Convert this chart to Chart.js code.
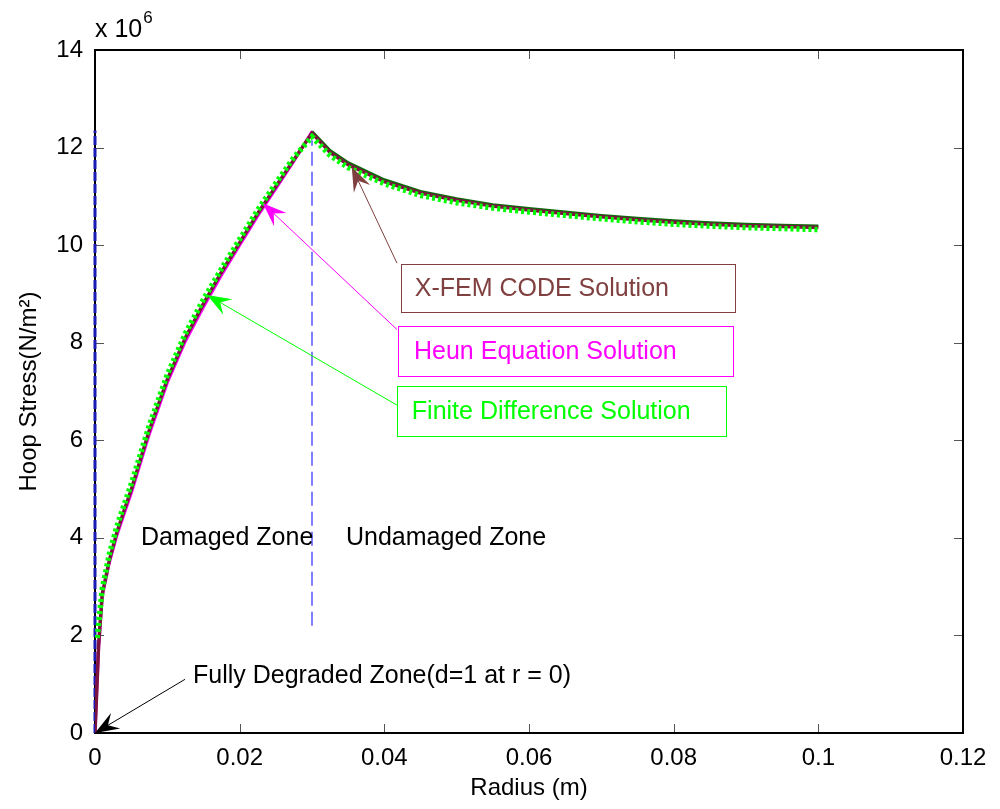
<!DOCTYPE html>
<html>
<head>
<meta charset="utf-8">
<script src="https://cdn.jsdelivr.net/npm/chart.js@4.4.1/dist/chart.umd.min.js"></script>
<style>
  html, body { margin: 0; padding: 0; background: #fff; }
  #wrap { width: 1000px; height: 809px; }
</style>
</head>
<body>
<div id="wrap"><canvas id="chart" width="1000" height="809"></canvas></div>
<script>
// radius in m, hoop stress in units of 1e6 N/m^2
const radius = [0, 0.0005, 0.001, 0.002, 0.003, 0.004, 0.005, 0.0075, 0.01, 0.0125, 0.015, 0.0175, 0.02, 0.0225, 0.025, 0.0275, 0.03,
    0.0325, 0.035, 0.04, 0.045, 0.05, 0.055, 0.06, 0.065, 0.07, 0.075, 0.08, 0.085, 0.09, 0.095, 0.1];
const xfemStress = [0, 1.8, 2.85, 3.55, 4.1, 4.55, 4.98, 6.2, 7.25, 8.1, 8.8, 9.45, 10.05, 10.65, 11.2, 11.75, 12.3,
    11.9, 11.65, 11.3, 11.07, 10.92, 10.8, 10.72, 10.65, 10.58, 10.52, 10.47, 10.43, 10.4, 10.38, 10.36];

const heunRadius = [0, 0.0005, 0.001, 0.002, 0.003, 0.004, 0.005, 0.0075, 0.01, 0.0125, 0.015, 0.0175, 0.02, 0.0225, 0.025, 0.0275, 0.03];
const heunStress = [0, 1.75, 2.8, 3.5, 4.04, 4.48, 4.91, 6.12, 7.18, 8.03, 8.73, 9.39, 10.0, 10.6, 11.16, 11.72, 12.33];

const fdRadius = [0.0003, 0.001, 0.002, 0.003, 0.004, 0.005, 0.0075, 0.01, 0.0125, 0.015, 0.0175, 0.02, 0.0225, 0.025, 0.0275, 0.03,
    0.0325, 0.035, 0.04, 0.045, 0.05, 0.055, 0.06, 0.065, 0.07, 0.075, 0.08, 0.085, 0.09, 0.095, 0.1];
const fdStress = [1.95, 2.95, 3.68, 4.22, 4.67, 5.1, 6.3, 7.35, 8.19, 8.89, 9.52, 10.12, 10.72, 11.27, 11.8, 12.22,
    11.84, 11.59, 11.26, 11.02, 10.87, 10.76, 10.68, 10.61, 10.54, 10.48, 10.43, 10.39, 10.36, 10.34, 10.32];

const outerRadius = [0.03, 0.0325, 0.035, 0.04, 0.045, 0.05, 0.055, 0.06, 0.065, 0.07, 0.075, 0.08, 0.085, 0.09, 0.095, 0.1];
const outerStress = [12.33, 11.94, 11.69, 11.34, 11.1, 10.95, 10.83, 10.75, 10.68, 10.61, 10.55, 10.5, 10.46, 10.43, 10.41, 10.39];

// zone boundary (r = 0.03) and the r = 0 trace
const boundaryRadius = [0.03, 0.03];
const boundaryStress = [2.2, 12.15];
const axisRadius = [0, 0];
const axisStress = [0, 12.35];

const xTicks = [0, 0.02, 0.04, 0.06, 0.08, 0.1, 0.12];
const yTicks = [0, 2, 4, 6, 8, 10, 12, 14];

const FONT = "'Liberation Sans', Arial, Helvetica, sans-serif";

const pts = (xs, ys) => xs.map((x, i) => ({ x, y: ys[i] }));

// text boxes, labels and arrows, placed in data units
const boxes = [
    { text: 'X-FEM CODE Solution', color: '#804040', x0: 0.0423, x1: 0.0885, y0: 9.61, y1: 8.63, tx: 0.0442 },
    { text: 'Heun Equation Solution', color: '#ff00ff', x0: 0.0419, x1: 0.0882, y0: 8.34, y1: 7.32, tx: 0.0441 },
    { text: 'Finite Difference Solution', color: '#00ff00', x0: 0.0417, x1: 0.0872, y0: 7.11, y1: 6.09, tx: 0.0438 }
];
const arrows = [
    { from: [0.04175, 9.63], to: [0.0355, 11.6], color: '#804040' },
    { from: [0.04175, 8.27], to: [0.0232, 10.86], color: '#ff00ff' },
    { from: [0.04175, 6.72], to: [0.0155, 8.98], color: '#00ff00' },
    { from: [0.01244, 1.1], to: [0, 0], color: '#000000' }
];
const labels = [
    { text: 'Damaged Zone', x: 0.00636, y: 4.0 },
    { text: 'Undamaged Zone', x: 0.0347, y: 4.0 },
    { text: 'Fully Degraded Zone(d=1 at r = 0)', x: 0.01355, y: 1.17 }
];

function arrow(ctx, x0, y0, x1, y1, color) {
    const ang = Math.atan2(y1 - y0, x1 - x0);
    const len = 24, half = 9, notch = 15;
    ctx.strokeStyle = color;
    ctx.lineWidth = 1;
    ctx.beginPath();
    ctx.moveTo(x0, y0);
    ctx.lineTo(x1 - Math.cos(ang) * notch, y1 - Math.sin(ang) * notch);
    ctx.stroke();
    ctx.save();
    ctx.translate(x1, y1);
    ctx.rotate(ang);
    ctx.beginPath();
    ctx.moveTo(0, 0);
    ctx.lineTo(-len, -half);
    ctx.lineTo(-notch, 0);
    ctx.lineTo(-len, half);
    ctx.closePath();
    ctx.fillStyle = color;
    ctx.fill();
    ctx.restore();
}

// box around the axes with inward ticks, under the curves
const frame = {
    id: 'frame',
    beforeDatasetsDraw(chart) {
        const { ctx, chartArea: a, scales: { x, y } } = chart;
        ctx.save();
        ctx.strokeStyle = '#555';
        ctx.lineWidth = 1;
        ctx.beginPath();
        for (const v of xTicks) {
            const px = Math.round(x.getPixelForValue(v)) + 0.5;
            ctx.moveTo(px, a.bottom); ctx.lineTo(px, a.bottom - 9);
            ctx.moveTo(px, a.top); ctx.lineTo(px, a.top + 9);
        }
        for (const v of yTicks) {
            const py = Math.round(y.getPixelForValue(v)) + 0.5;
            ctx.moveTo(a.left, py); ctx.lineTo(a.left + 9, py);
            ctx.moveTo(a.right, py); ctx.lineTo(a.right - 9, py);
        }
        ctx.stroke();
        ctx.strokeStyle = '#000';
        ctx.lineWidth = 2;
        ctx.strokeRect(a.left, a.top, a.right - a.left, a.bottom - a.top);
        ctx.restore();
    },
    afterDatasetsDraw(chart) {
        const { ctx, chartArea: a, scales: { x, y } } = chart;
        ctx.save();
        ctx.font = `25px ${FONT}`;
        ctx.textBaseline = 'middle';
        ctx.textAlign = 'left';
        for (const b of boxes) {
            const l = Math.round(x.getPixelForValue(b.x0)) + 0.5;
            const r = Math.round(x.getPixelForValue(b.x1)) + 0.5;
            const t = Math.round(y.getPixelForValue(b.y0)) + 0.5;
            const btm = Math.round(y.getPixelForValue(b.y1)) + 0.5;
            ctx.strokeStyle = b.color;
            ctx.lineWidth = 1;
            ctx.strokeRect(l, t, r - l, btm - t);
            ctx.fillStyle = b.color;
            ctx.fillText(b.text, x.getPixelForValue(b.tx), (t + btm) / 2 + 1);
        }
        ctx.fillStyle = '#000';
        for (const lb of labels) {
            ctx.fillText(lb.text, x.getPixelForValue(lb.x), y.getPixelForValue(lb.y));
        }
        for (const ar of arrows) {
            arrow(ctx,
                x.getPixelForValue(ar.from[0]), y.getPixelForValue(ar.from[1]),
                x.getPixelForValue(ar.to[0]), y.getPixelForValue(ar.to[1]), ar.color);
        }
        // axis multiplier
        ctx.fillStyle = '#000';
        ctx.textBaseline = 'alphabetic';
        ctx.font = `25px ${FONT}`;
        ctx.fillText('x 10', a.left, 37);
        const w = ctx.measureText('x 10').width;
        ctx.font = `17px ${FONT}`;
        ctx.fillText('6', a.left + w + 1, 23);
        ctx.restore();
    }
};

const whiteBackground = {
    id: 'white_bg',
    beforeDraw(chart) {
        const { ctx } = chart;
        ctx.save();
        ctx.fillStyle = '#fff';
        ctx.fillRect(0, 0, chart.width, chart.height);
        ctx.restore();
    }
};

Chart.defaults.font.family = FONT;
Chart.defaults.font.size = 24;
Chart.defaults.color = '#000';

new Chart(document.getElementById('chart').getContext('2d'), {
    type: 'line',
    data: {
        datasets: [
            {
                label: 'boundary',
                data: pts(boundaryRadius, boundaryStress),
                borderColor: '#7f7fff',
                borderWidth: 2,
                borderDash: [14, 6],
                order: 7
            },
            {
                label: 'r = 0',
                data: pts(axisRadius, axisStress),
                borderColor: '#1a1ab4',
                borderWidth: 3,
                borderDash: [9, 3],
                clip: false,
                order: 6
            },
            {
                label: 'Undamaged zone',
                data: pts(outerRadius, outerStress),
                borderColor: '#0b6b0b',
                borderWidth: 3,
                order: 5
            },
            {
                label: 'Heun Equation Solution',
                data: pts(heunRadius, heunStress),
                borderColor: '#ff00ff',
                borderWidth: 3,
                order: 4
            },
            {
                label: 'X-FEM CODE Solution',
                data: pts(radius, xfemStress),
                borderColor: '#7d1440',
                borderWidth: 3.5,
                order: 3
            },
            {
                label: 'Finite Difference Solution',
                data: pts(fdRadius, fdStress),
                borderColor: '#00ff00',
                borderWidth: 5.5,
                borderDash: [3, 3],
                order: 2
            }
        ]
    },
    options: {
        responsive: false,
        animation: false,
        devicePixelRatio: 1,
        elements: {
            point: { radius: 0 },
            line: { tension: 0, borderCapStyle: 'butt', borderJoinStyle: 'miter' }
        },
        layout: {
            padding: { top: 50, right: 37, left: 0, bottom: 0 }
        },
        scales: {
            x: {
                type: 'linear',
                min: 0,
                max: 0.12,
                afterBuildTicks: s => { s.ticks = xTicks.map(value => ({ value })); },
                afterFit: s => { s.height = 76; },
                grid: { display: false },
                border: { display: false },
                ticks: {
                    padding: 3,
                    maxRotation: 0,
                    callback: v => String(+v.toFixed(2))
                },
                title: {
                    display: true,
                    text: 'Radius (m)',
                    font: { size: 24 },
                    padding: { top: 0, bottom: 6 }
                }
            },
            y: {
                type: 'linear',
                min: 0,
                max: 14,
                afterBuildTicks: s => { s.ticks = yTicks.map(value => ({ value })); },
                afterFit: s => { s.width = 95; },
                grid: { display: false },
                border: { display: false },
                ticks: {
                    padding: 4,
                    callback: v => String(v)
                },
                title: {
                    display: true,
                    text: 'Hoop Stress(N/m²)',
                    font: { size: 24 },
                    padding: { top: 15, bottom: 0 }
                }
            }
        },
        plugins: {
            legend: { display: false },
            tooltip: { enabled: false }
        }
    },
    plugins: [whiteBackground, frame]
});
</script>
</body>
</html>
